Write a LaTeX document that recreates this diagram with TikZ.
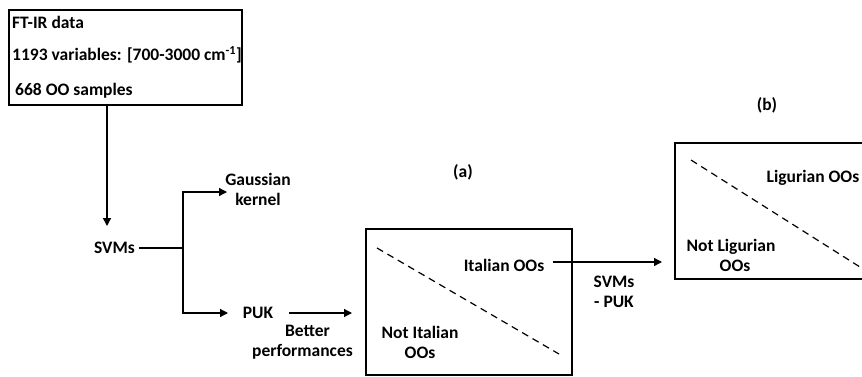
\documentclass[tikz,border=0pt]{standalone}
\usepackage{fontspec}
\setmainfont{Carlito}
\usetikzlibrary{arrows.meta}
\begin{document}
\begin{tikzpicture}[x=1pt,y=-1pt,
  lbl/.style={font=\bfseries\fontsize{17.5}{20}\selectfont, inner sep=0pt, align=center},
  frame/.style={draw, line width=1.4pt, inner sep=0pt},
  link/.style={line width=1.3pt},
  arr/.style={link, -{Triangle[length=8pt,width=8pt]}},
  split/.style={dashed, line width=1.2pt, dash pattern=on 7pt off 5pt}]
\useasboundingbox (0,0) rectangle (862,376);

% input data box
\node[frame, minimum width=233pt, minimum height=95pt] (ftir) at (125.5,57.5) {};
\node[lbl, anchor=west] (t1) at (12,22) {FT-IR data};
\node[lbl, anchor=west] (t2) at (12,55) {1193 variables: [700-3000 cm\textsuperscript{-1}]};
\node[lbl, anchor=west] (t3) at (15,91) {668 OO samples};

% classifier and kernels
\node[lbl] (svm) at (114.5,248) {SVMs};
\coordinate (svmtop) at (107,226);
\coordinate (fork) at (183,248);
\node[lbl] (gauss) at (258,189) {Gaussian\\kernel};
\node[lbl] (puk) at (258,313) {PUK};
\coordinate (gin) at (227,192);
\coordinate (pin) at (228,313);

\draw[arr] (ftir.south -| svmtop) -- (svmtop);
\draw[link] (svm.east) ++(4,0) coordinate (svmout) -- (fork);
\draw[arr] (fork) |- (gin);
\draw[arr] (fork) |- (pin);

% result (a)
\node[lbl] (capa) at (463,172) {(a)};
\node[frame, minimum width=206pt, minimum height=146pt] (boxa) at (469,302) {};
\draw[split] (377,248) coordinate (da1) -- (559,354) coordinate (da2);
\node[lbl] (ita) at (504,265) {Italian OOs};
\node[lbl] (nita) at (420,342.5) {Not Italian\\OOs};

\coordinate (pout) at (352,313);
\draw[arr] (puk.east) ++(16,0) -- (pout);
\node[lbl] (better) at (302.5,342.5) {\hspace*{10pt}Better\\performances};

% result (b)
\node[lbl] (capb) at (767,105) {(b)};
\node[frame, minimum width=195pt, minimum height=136pt] (boxb) at (772.5,211) {};
\draw[split] (691,160) coordinate (db1) -- (860,267) coordinate (db2);
\node[lbl] (lig) at (813,178) {Ligurian OOs};
\node[lbl] (nlig) at (731,255) {Not Ligurian\\\hspace*{8pt}OOs};

\coordinate (bin) at (662,262);
\draw[arr] (ita.east) ++(9,-3) -- (bin);
\node[lbl] (svmpuk) at (614,292) {SVMs\\- PUK};
\end{tikzpicture}
\end{document}
